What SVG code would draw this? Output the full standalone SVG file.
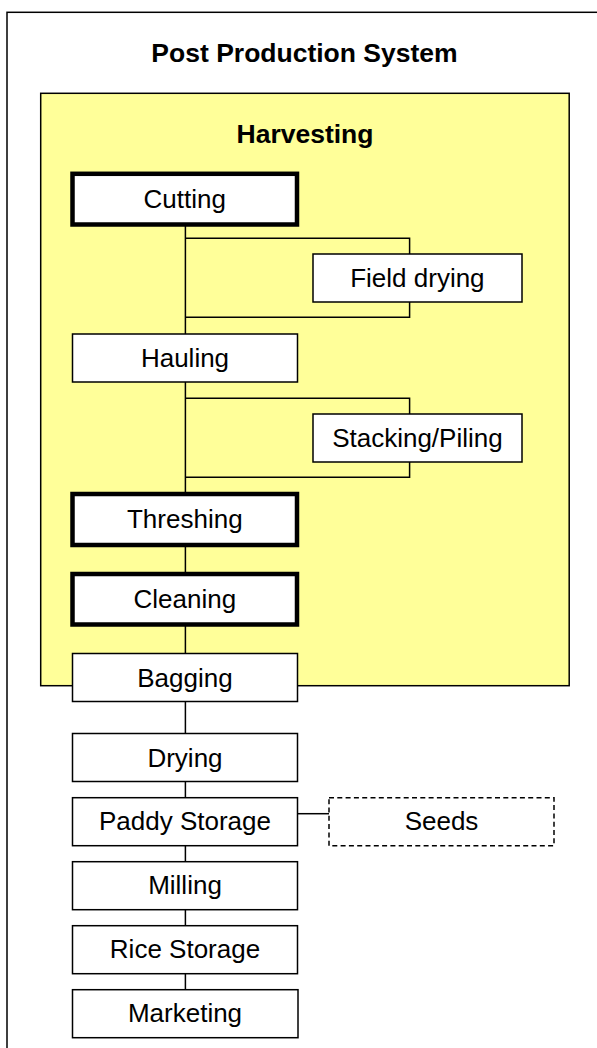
<svg xmlns="http://www.w3.org/2000/svg" width="597" height="1048" viewBox="0 0 597 1048">
<style>
.frame{fill:#ffffff;stroke:#000;stroke-width:1.5}
.harv{fill:#ffff99;stroke:#000;stroke-width:1.5}
.box{fill:#ffffff;stroke:#000;stroke-width:1.5}
.key{fill:#ffffff;stroke:#000;stroke-width:4.5}
.dash{fill:#ffffff;stroke:#000;stroke-width:1.5;stroke-dasharray:5,3.3}
.lbl{font-family:"Liberation Sans",Arial,sans-serif;font-size:26px;text-anchor:middle;fill:#000}
.ttl{font-family:"Liberation Sans",Arial,sans-serif;font-size:26.5px;font-weight:bold;text-anchor:middle;fill:#000}
.con{fill:none;stroke:#000;stroke-width:1.5}
</style>
<rect x="0" y="0" width="597" height="1048" fill="#ffffff"/>
<g id="post-production-system">
<rect class="frame" x="7" y="12.3" width="600" height="1050"/>
<text class="ttl" x="304.5" y="62.3">Post Production System</text>
</g>
<g id="harvesting">
<rect class="harv" x="40.7" y="93.3" width="528.5" height="592.4"/>
<text class="ttl" x="305" y="142.7">Harvesting</text>
</g>
<g id="connectors">
<path class="con" d="M185.4,224.5 V334 M185.4,382 V494 M185.4,545 V574 M185.4,624.5 V653.5 M185.4,701.5 V733.5 M185.4,781.5 V797.7 M185.4,845.7 V861.7 M185.4,909.7 V925.7 M185.4,973.7 V989.7"/>
<path class="con" d="M185.4,238.3 H409.6 V254 M409.6,302 V317.3 H185.4"/>
<path class="con" d="M185.4,398.3 H409.6 V414 M409.6,462 V477.3 H185.4"/>
<path class="con" d="M297.5,813.7 H329"/>
</g>
<g id="cutting">
<rect class="key" x="72.5" y="173.8" width="224.5" height="50.7"/>
<text class="lbl" x="184.8" y="208.3">Cutting</text>
</g>
<g id="field-drying">
<rect class="box" x="313" y="254" width="209" height="48"/>
<text class="lbl" x="417.4" y="286.7">Field drying</text>
</g>
<g id="hauling">
<rect class="box" x="72.5" y="334" width="225" height="48"/>
<text class="lbl" x="185" y="366.7">Hauling</text>
</g>
<g id="stacking-piling">
<rect class="box" x="313" y="414" width="209" height="48"/>
<text class="lbl" x="417.4" y="446.7">Stacking/Piling</text>
</g>
<g id="threshing">
<rect class="key" x="72.5" y="494" width="224.5" height="51"/>
<text class="lbl" x="184.8" y="528.3">Threshing</text>
</g>
<g id="cleaning">
<rect class="key" x="72.5" y="574" width="224.5" height="50.5"/>
<text class="lbl" x="184.8" y="608.3">Cleaning</text>
</g>
<g id="bagging">
<rect class="box" x="72.5" y="653.5" width="225" height="48"/>
<text class="lbl" x="185" y="686.7">Bagging</text>
</g>
<g id="drying">
<rect class="box" x="72.5" y="733.5" width="225" height="48"/>
<text class="lbl" x="185" y="766.7">Drying</text>
</g>
<g id="paddy-storage">
<rect class="box" x="72.5" y="797.7" width="225" height="48"/>
<text class="lbl" x="185" y="830">Paddy Storage</text>
</g>
<g id="seeds">
<rect class="dash" x="329" y="797.7" width="225" height="48"/>
<text class="lbl" x="441.5" y="830">Seeds</text>
</g>
<g id="milling">
<rect class="box" x="72.5" y="861.7" width="225" height="48"/>
<text class="lbl" x="185" y="894">Milling</text>
</g>
<g id="rice-storage">
<rect class="box" x="72.5" y="925.7" width="225" height="48"/>
<text class="lbl" x="185" y="958.3">Rice Storage</text>
</g>
<g id="marketing">
<rect class="box" x="72.5" y="989.7" width="225.5" height="48"/>
<text class="lbl" x="185" y="1022">Marketing</text>
</g>
</svg>
